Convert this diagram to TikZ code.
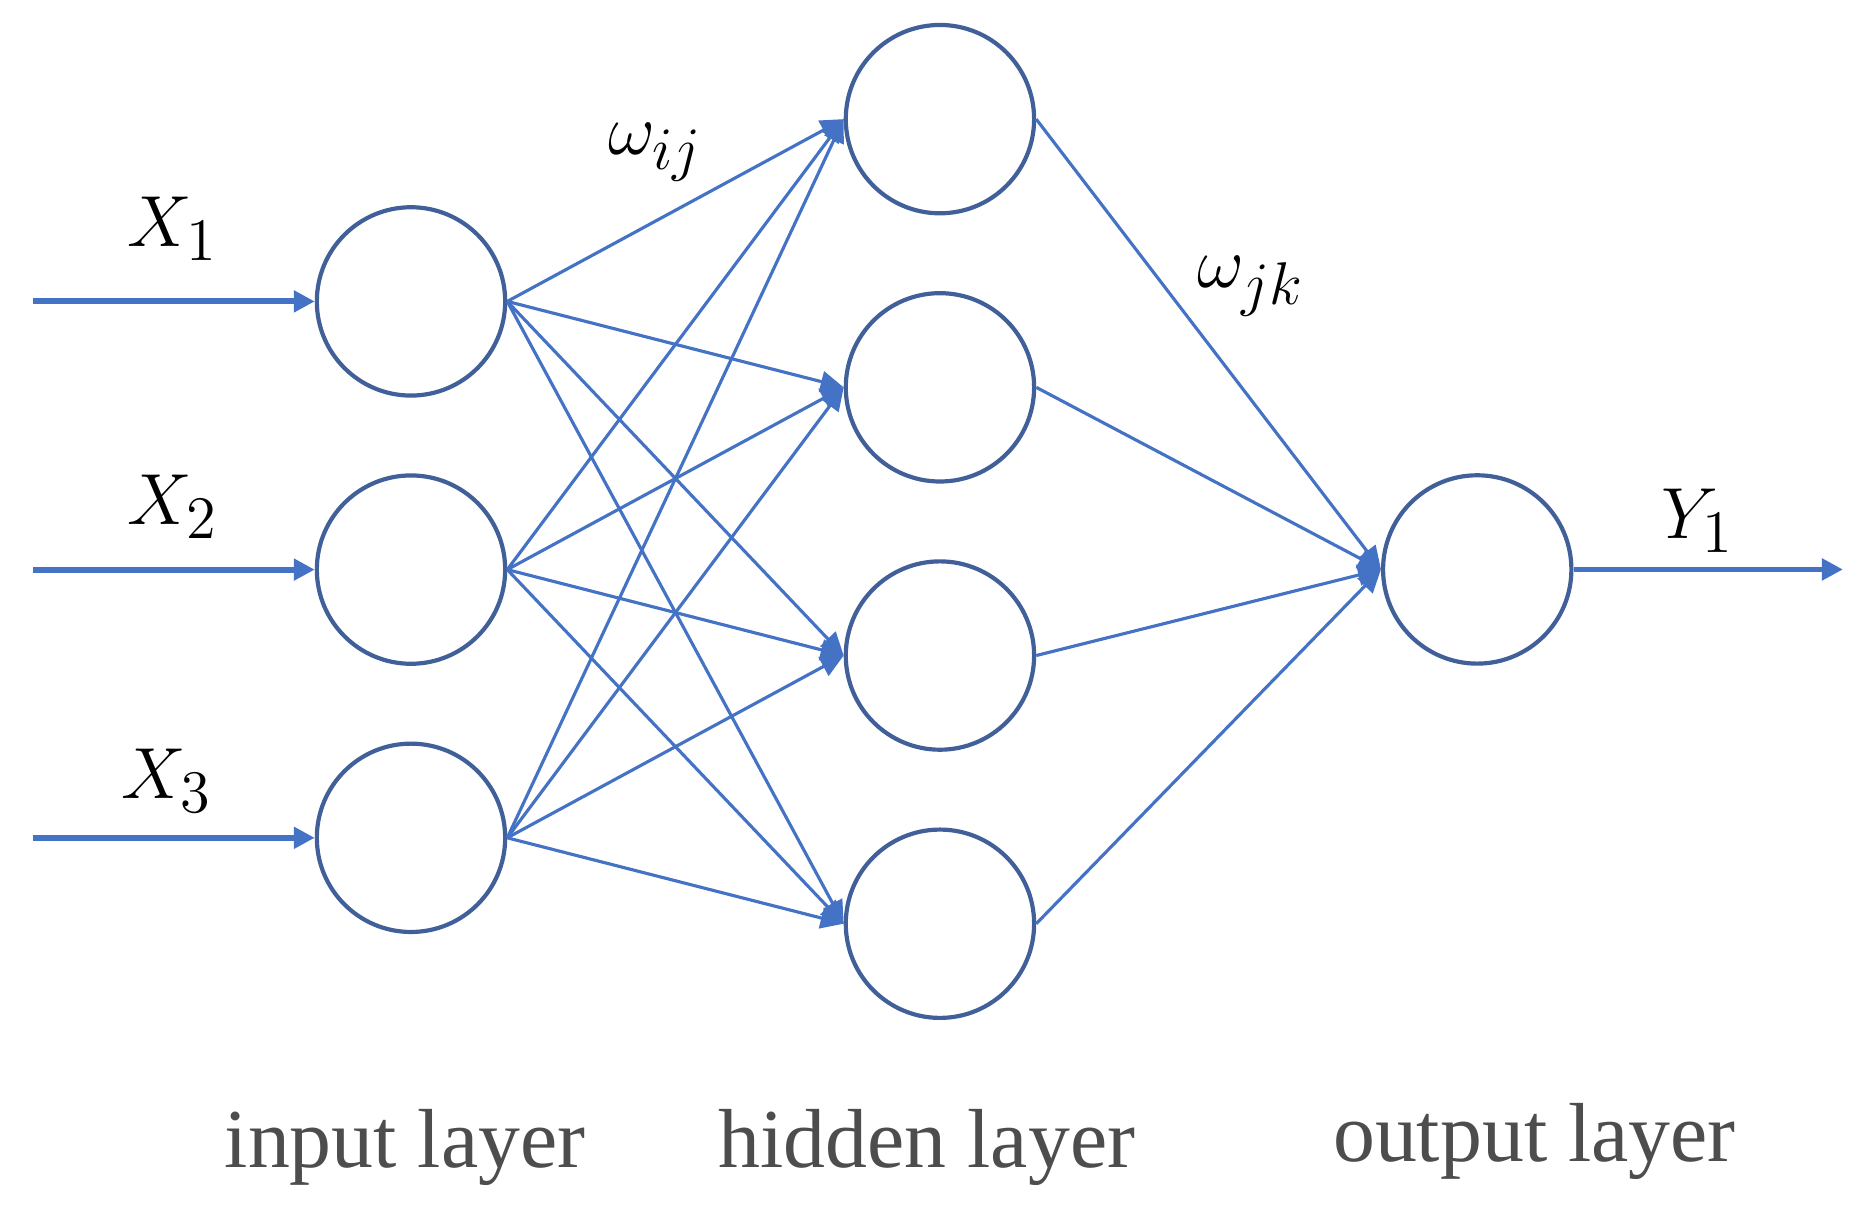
\documentclass[tikz,border=0pt]{standalone}
\usepackage{fontspec}
\setmainfont{Liberation Serif}
\usetikzlibrary{positioning,arrows.meta}
\definecolor{linkblue}{HTML}{4472C4}
\definecolor{ringblue}{HTML}{41609A}
\definecolor{labelgray}{HTML}{4D4D4D}
\begin{document}
\begin{tikzpicture}[x=0.01cm, y=-0.01cm, node distance=2.25cm,
  neuron/.style={draw=ringblue, line width=1pt, circle, minimum size=1.58cm, inner sep=0pt},
  link/.style={draw=linkblue, line width=0.75pt, -{Triangle[length=5.5pt,width=5pt]}},
  feed/.style={draw=linkblue, line width=1.4pt, -{Triangle[length=5pt,width=5pt]}},
  sym/.style={font=\fontsize{19}{22}\selectfont},
  layer/.style={text=labelgray, font=\fontsize{20}{24}\selectfont}]
  \useasboundingbox (0,0) rectangle (1568,1024);
  % input layer
  \node (in1) [neuron] at (345,253) {};
  \node (in2) [neuron, below of=in1] {};
  \node (in3) [neuron, below of=in2] {};
  % hidden layer
  \node (h1) [neuron] at (789,100) {};
  \node (h2) [neuron, below of=h1] {};
  \node (h3) [neuron, below of=h2] {};
  \node (h4) [neuron, below of=h3] {};
  % output layer
  \node (out) [neuron] at (1240,478) {};
  \coordinate (x1) at ([xshift=-2.36cm]in1.west);
  \coordinate (x2) at ([xshift=-2.36cm]in2.west);
  \coordinate (x3) at ([xshift=-2.36cm]in3.west);
  \coordinate (y1) at ([xshift=2.26cm]out.east);
  \draw[feed] (x1) -- (in1.west);
  \draw[feed] (x2) -- (in2.west);
  \draw[feed] (x3) -- (in3.west);
  \draw[feed] (out.east) -- (y1);
  \draw[link] (in1.east) -- (h1.west);
  \draw[link] (in1.east) -- (h2.west);
  \draw[link] (in1.east) -- (h3.west);
  \draw[link] (in1.east) -- (h4.west);
  \draw[link] (in2.east) -- (h1.west);
  \draw[link] (in2.east) -- (h2.west);
  \draw[link] (in2.east) -- (h3.west);
  \draw[link] (in2.east) -- (h4.west);
  \draw[link] (in3.east) -- (h1.west);
  \draw[link] (in3.east) -- (h2.west);
  \draw[link] (in3.east) -- (h3.west);
  \draw[link] (in3.east) -- (h4.west);
  \draw[link] (h1.east) -- (out.west);
  \draw[link] (h2.east) -- (out.west);
  \draw[link] (h3.east) -- (out.west);
  \draw[link] (h4.east) -- (out.west);
  % labels
  \node (lx1) [sym] at (145,192) {$X_1$};
  \node (lx2) [sym] at (145,425) {$X_2$};
  \node (lx3) [sym] at (140,655) {$X_3$};
  \node (ly1) [sym] at (1425,437) {$Y_1$};
  \node (wij) [sym] at (550,128) {$\omega_{ij}$};
  \node (wjk) [sym] at (1050,240) {$\omega_{jk}$};
  \node (linput) [layer] at (340,963) {input layer};
  \node (lhidden) [layer] at (778,963) {hidden layer};
  \node (loutput) [layer] at (1288,958) {output layer};
\end{tikzpicture}
\end{document}
